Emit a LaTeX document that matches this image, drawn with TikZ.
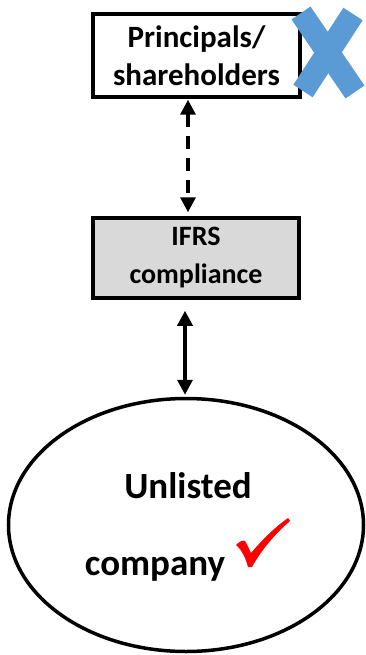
\documentclass[tikz,border=0pt]{standalone}
\usepackage{fontspec}
\setmainfont{Carlito}
\usetikzlibrary{arrows.meta,shapes.geometric}
\definecolor{xblue}{HTML}{5B9BD5}
\definecolor{boxgray}{HTML}{D9D9D9}
\tikzset{
  boxnode/.style={draw=black,line width=3.5pt,inner sep=0pt,align=center,font=\bfseries},
  conn/.style={line width=3.5pt,{Triangle[length=15pt,width=15pt]}-{Triangle[length=15pt,width=15pt]}},
}
\begin{document}
\begin{tikzpicture}[x=1pt,y=-1pt]
\useasboundingbox (0,0) rectangle (366,655);
\node[boxnode,fill=white,minimum width=207pt,minimum height=83pt,font=\bfseries\fontsize{31}{38}\selectfont] (top) at (196.5,55.5) {Principals/\\shareholders};
\node[boxnode,fill=boxgray,minimum width=206pt,minimum height=80pt,font=\bfseries\fontsize{28}{38}\selectfont] (ifrs) at (196,258) {IFRS\\compliance};
\node[draw=black,line width=3.5pt,ellipse,minimum width=355pt,minimum height=253pt,inner sep=0pt] (comp) at (186,525) {};
\node[font=\bfseries\fontsize{37}{44}\selectfont,anchor=base] (t1) at (188,498) {Unlisted};
\node[font=\bfseries\fontsize{37}{44}\selectfont,anchor=base] (t2) at (155,575) {company};
% blue X
\draw[xblue,line width=23pt] (301,13) -- (355,92);
\draw[xblue,line width=23pt] (353,14) -- (303,91);
% red check mark
\fill[red] (236,545) .. controls (240,541) and (243,540) .. (245,541)
  .. controls (247,544) and (249,549) .. (251,553)
  .. controls (262,540) and (275,527) .. (288,518)
  -- (290,521)
  .. controls (276,533) and (262,549) .. (252,567)
  -- (248,567)
  .. controls (246,559) and (242,550) .. cycle;
% connectors
\draw[conn,dash pattern=on 13pt off 9pt,shorten <=1pt,shorten >=4pt] ([xshift=-8.5pt]top.south) -- ([xshift=-8pt]ifrs.north);
\draw[conn,shorten <=11pt,shorten >=2pt] ([xshift=-11pt]ifrs.south) -- (comp.north -| 185,0);
\end{tikzpicture}
\end{document}
